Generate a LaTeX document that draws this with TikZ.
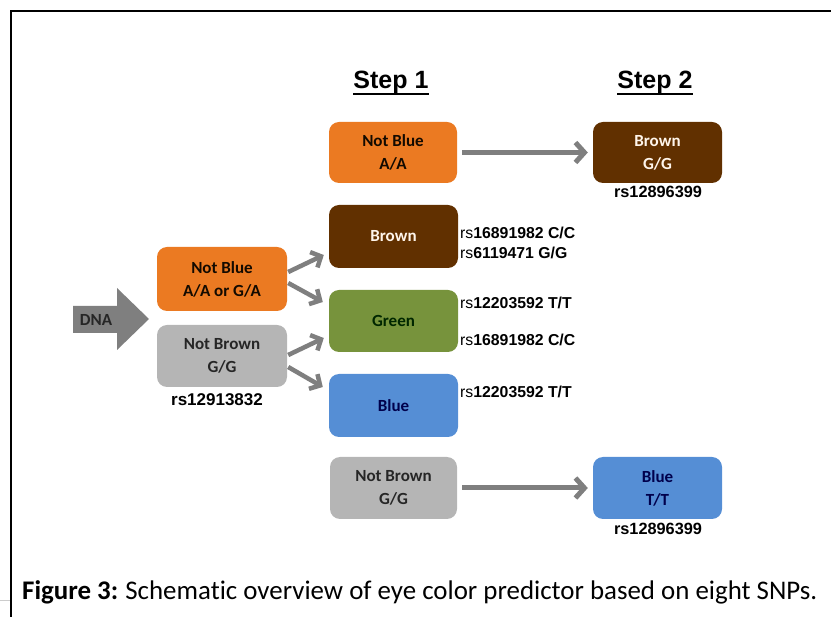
\documentclass[tikz,border=0pt]{standalone}
\usepackage{fontspec}
\setmainfont{Carlito}[Ligatures=NoCommon]
\newfontfamily\arialf{Liberation Sans}
\usetikzlibrary{arrows.meta}
\definecolor{orgA}{HTML}{EB7A22}
\definecolor{brnA}{HTML}{613000}
\definecolor{grnA}{HTML}{77933C}
\definecolor{bluA}{HTML}{558ED5}
\definecolor{gryA}{HTML}{B5B5B5}
\definecolor{arrA}{HTML}{7F7F7F}
\tikzset{
  box/.style={rectangle, rounded corners=10pt, minimum width=129pt, minimum height=62pt,
    inner sep=0pt, align=center, font=\fontsize{17}{23}\selectfont\bfseries},
  orgbox/.style={box, fill=orgA, text=black!80!brnA},
  brnbox/.style={box, fill=brnA, text=white!92!orange},
  grnbox/.style={box, fill=grnA, text=black!85!green},
  blubox/.style={box, fill=bluA, text=black!70!blue},
  grybox/.style={box, fill=gryA, text=black!85},
  rslab/.style={inner sep=0pt, font=\arialf\fontsize{15.8}{19}\selectfont},
  rsbold/.style={inner sep=0pt, font=\arialf\fontsize{16.3}{19}\selectfont\bfseries},
  bigarr/.style={draw=arrA, line width=5pt, -{Straight Barb[length=9pt,width=20pt]}},
  smlarr/.style={draw=arrA, line width=4.5pt, -{Straight Barb[length=8pt,width=17pt]}},
  stephead/.style={inner sep=0pt, font=\arialf\fontsize{25}{30}\selectfont\bfseries}
}
\begin{document}
\begin{tikzpicture}[x=1pt,y=-1pt]
\useasboundingbox (0,0) rectangle (831,617);
% frame
\draw[line width=2pt] (11,617) -- (11,11) -- (831,11);
\draw[black!20, line width=1pt] (0,601) -- (10,601);
% headings
\node[stephead, anchor=base] (st1) at (391,89) {Step 1};
\node[stephead, anchor=base] (st2) at (655,89) {Step 2};
\draw[line width=2.2pt] ([yshift=-5pt]st1.base west) -- ([yshift=-5pt]st1.base east);
\draw[line width=2.2pt] ([yshift=-5pt]st2.base west) -- ([yshift=-5pt]st2.base east);
% DNA arrow
\fill[arrA] (73,306) -- (117,306) -- (117,288) -- (149,319) -- (117,350) -- (117,333) -- (73,333) -- cycle;
\node[inner sep=0pt, font=\fontsize{17}{20}\selectfont\bfseries, text=black!85] (dna) at (96,320) {DNA};
% left boxes
\node[orgbox, minimum width=130pt, minimum height=64pt] (lnb) at (222,279) {Not Blue\\A/A or G/A};
\node[grybox, minimum width=130pt] (lnbr) at (222,356) {Not Brown\\G/G};
\node[rsbold, font=\arialf\fontsize{17}{19}\selectfont\bfseries] (rsl) at (217,400) {rs12913832};
% step 1 column
\node[orgbox, minimum width=128pt, minimum height=61pt] (nb1) at (393,152.5) {Not Blue\\A/A};
\node[brnbox, minimum height=63pt] (brown) at (393.5,236.5) {Brown};
\node[grnbox] (green) at (393.5,321) {Green};
\node[blubox, minimum height=63pt] (blue) at (393.5,405.5) {Blue};
\node[grybox, minimum width=127pt] (nbr) at (393.5,488) {Not Brown\\G/G};
% step 2 column
\node[brnbox, minimum height=61pt] (br2) at (657.5,152.5) {Brown\\G/G};
\node[blubox] (blue2) at (657.5,488) {Blue\\T/T};
\node[rsbold] (rs2a) at (658,192) {rs12896399};
\node[rsbold] (rs2b) at (658,529) {rs12896399};
% rs labels
\node[rslab, anchor=west] (l1) at (460,233) {rs\textbf{16891982 C/C}};
\node[rslab, anchor=west] (l2) at (460,253) {rs\textbf{6119471 G/G}};
\node[rslab, anchor=west] (l3) at (460,303) {rs\textbf{12203592 T/T}};
\node[rslab, anchor=west] (l4) at (460,340) {rs\textbf{16891982 C/C}};
\node[rslab, anchor=west] (l5) at (460,392) {rs\textbf{12203592 T/T}};
% connectors
\draw[bigarr] ([xshift=5pt]nb1.east) -- ([xshift=-5pt]br2.west);
\draw[bigarr] ([xshift=5pt]nbr.east) -- ([xshift=-5pt]blue2.west);
\draw[smlarr] ([xshift=1pt,yshift=7pt]lnb.east) -- ([xshift=-5pt,yshift=-18.5pt]brown.west);
\draw[smlarr] ([xshift=1pt,yshift=-4pt]lnb.east) -- ([xshift=-6pt,yshift=19pt]green.west);
\draw[smlarr] ([xshift=1pt,yshift=1pt]lnbr.east) -- ([xshift=-5pt,yshift=-17pt]green.west);
\draw[smlarr] ([xshift=1pt,yshift=-11pt]lnbr.east) -- ([xshift=-6pt,yshift=18.5pt]blue.west);
% caption
\node[anchor=west, inner sep=0pt, font=\fontsize{26.9}{30}\selectfont] (cap) at (22,592) {\textbf{Figure 3:}\hspace{-1pt} Schematic overview of eye color predictor based on eight SNPs.};
\end{tikzpicture}
\end{document}
